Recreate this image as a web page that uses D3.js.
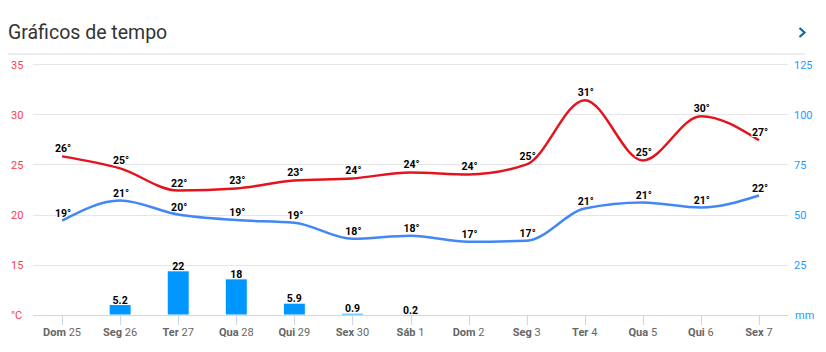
<!DOCTYPE html>
<html>
<head>
<meta charset="utf-8">
<script src="https://cdn.jsdelivr.net/npm/d3@7"></script>
<style>
  body { margin: 0; background: #fff; font-family: Roboto, "Noto Sans", sans-serif; }
  svg { display: block; }
</style>
</head>
<body>
<div id="chart"></div>
<script>
// Days on the x axis
const dayNames = ["Dom", "Seg", "Ter", "Qua", "Qui", "Sex", "Sáb", "Dom", "Seg", "Ter", "Qua", "Qui", "Sex"];
const dayNums = ["25", "26", "27", "28", "29", "30", "1", "2", "3", "4", "5", "6", "7"];

// Temperatures (°C)
const tempMax = [25.8, 24.6, 22.4, 22.6, 23.4, 23.6, 24.2, 24.0, 25.0, 31.4, 25.4, 29.8, 27.4];
const tempMin = [19.4, 21.4, 20.0, 19.45, 19.2, 17.6, 17.9, 17.3, 17.4, 20.6, 21.2, 20.7, 21.9];

// Rain (mm), null = no bar
const rain = [null, 5.2, 22, 18, 5.9, 0.9, 0.2, null, null, null, null, null, null];

// Axis ticks
const tempTicks = [15, 20, 25, 30, 35];
const rainTicks = [25, 50, 75, 100, 125];

const W = 826, H = 352;
const plot = { left: 33, right: 788, top: 64, bottom: 315 };

const svg = d3.select("#chart").append("svg")
  .attr("width", W)
  .attr("height", H);

// Header
svg.append("text")
  .attr("x", 8)
  .attr("y", 39)
  .attr("fill", "#333")
  .style("font-size", "19.5px")
  .text("Gráficos de tempo");

svg.append("path")
  .attr("d", "M799.5,28 L804.5,32.5 L799.5,37")
  .attr("fill", "none")
  .attr("stroke", "#0b6aa8")
  .attr("stroke-width", 2.2);

svg.append("line")
  .attr("x1", 8).attr("x2", 805)
  .attr("y1", 54).attr("y2", 54)
  .attr("stroke", "#dcdcdc")
  .attr("stroke-width", 1.2);

// Scales
const idx = d3.range(dayNames.length);
const x = d3.scaleBand()
  .domain(idx)
  .range([plot.left, plot.right]);
const cx = i => x(i) + x.bandwidth() / 2;

const yT = d3.scaleLinear().domain([10, 35]).range([plot.bottom, plot.top]);
const yR = d3.scaleLinear().domain([0, 125]).range([plot.bottom, plot.top]);

// Grid lines
svg.append("g")
  .selectAll("line")
  .data(tempTicks)
  .join("line")
  .attr("x1", plot.left).attr("x2", plot.right)
  .attr("y1", d => Math.round(yT(d)) + 0.5)
  .attr("y2", d => Math.round(yT(d)) + 0.5)
  .attr("stroke", "#e6e6e6");

// Left axis labels
const leftAxis = svg.append("g").style("font-size", "11px").attr("fill", "#ff3b4a");
leftAxis.selectAll("text")
  .data(tempTicks)
  .join("text")
  .attr("x", 11)
  .attr("y", d => yT(d) + 4.5)
  .text(d => d);
leftAxis.append("text")
  .attr("x", 11)
  .attr("y", yT(10) + 4)
  .text("°C");

// Right axis labels
const rightAxis = svg.append("g").style("font-size", "11px").attr("fill", "#1a9cff");
rightAxis.selectAll("text")
  .data(rainTicks)
  .join("text")
  .attr("x", 794)
  .attr("y", d => yR(d) + 4.5)
  .text(d => d);
rightAxis.append("text")
  .attr("x", 795)
  .attr("y", yR(0) + 4)
  .text("mm");

// Rain bars
const barW = 22;
const rainData = idx.filter(i => rain[i] !== null);
svg.append("g")
  .selectAll("rect")
  .data(rainData)
  .join("rect")
  .attr("x", i => cx(i) - barW / 2)
  .attr("y", i => yR(rain[i]))
  .attr("width", barW)
  .attr("height", i => yR(0) - yR(rain[i]))
  .attr("fill", "#0096ff")
  .attr("stroke", "#fff")
  .attr("stroke-width", 1);

svg.append("g")
  .selectAll("text")
  .data(rainData)
  .join("text")
  .attr("x", i => cx(i))
  .attr("y", i => yR(rain[i]) - 1)
  .attr("text-anchor", "middle")
  .style("font-size", "10.5px")
  .style("font-weight", "bold")
  .attr("fill", "#000")
  .text(i => rain[i]);

// X axis
svg.append("line")
  .attr("x1", plot.left).attr("x2", plot.right)
  .attr("y1", plot.bottom + 0.5).attr("y2", plot.bottom + 0.5)
  .attr("stroke", "#ccd6eb");

svg.append("g")
  .selectAll("line")
  .data(idx)
  .join("line")
  .attr("x1", i => Math.round(cx(i)) + 0.5)
  .attr("x2", i => Math.round(cx(i)) + 0.5)
  .attr("y1", plot.bottom)
  .attr("y2", plot.bottom + 10)
  .attr("stroke", "#ccd6eb");

const xLabels = svg.append("g")
  .selectAll("text")
  .data(idx)
  .join("text")
  .attr("x", i => cx(i))
  .attr("y", 336)
  .attr("text-anchor", "middle")
  .style("font-size", "11px")
  .attr("fill", "#666");
xLabels.append("tspan").style("font-weight", "bold").text(i => dayNames[i]);
xLabels.append("tspan").text(i => " " + dayNums[i]);

// Temperature lines
const line = d3.line()
  .x((d, i) => cx(i))
  .y(d => yT(d))
  .curve(d3.curveMonotoneX);

svg.append("path")
  .attr("d", line(tempMin))
  .attr("fill", "none")
  .attr("stroke", "#4287f5")
  .attr("stroke-width", 2.5);

svg.append("path")
  .attr("d", line(tempMax))
  .attr("fill", "none")
  .attr("stroke", "#e3141e")
  .attr("stroke-width", 2.5);

// Temperature labels
function tempLabels(values) {
  svg.append("g")
    .selectAll("text")
    .data(values)
    .join("text")
    .attr("x", (d, i) => cx(i) + 1)
    .attr("y", d => yT(d) - 4)
    .attr("text-anchor", "middle")
    .style("font-size", "10.5px")
    .style("font-weight", "bold")
    .attr("fill", "#000")
    .attr("stroke", "#fff")
    .attr("stroke-width", 2)
    .attr("paint-order", "stroke")
    .text(d => Math.round(d) + "°");
}
tempLabels(tempMin);
tempLabels(tempMax);
</script>
</body>
</html>
